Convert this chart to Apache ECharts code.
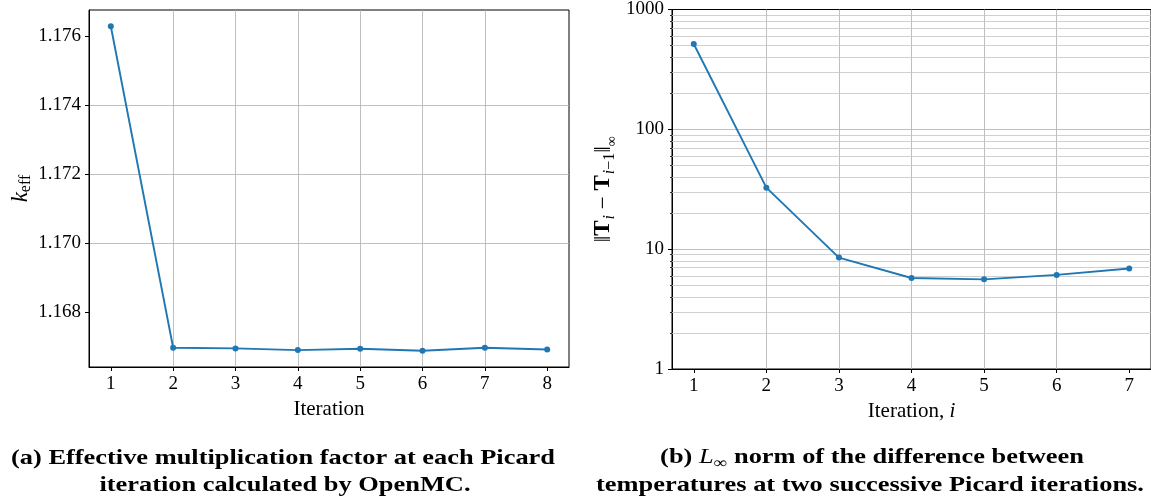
<!DOCTYPE html>
<html>
<head>
<meta charset="utf-8">
<script src="https://cdn.jsdelivr.net/npm/echarts@6/dist/echarts.min.js"></script>
<style>
html,body{margin:0;padding:0;background:#fff}
#main{width:1151px;height:499px}
</style>
</head>
<body>
<div id="main"></div>
<script>
// (a) k_eff per Picard iteration
var iterA = [1, 2, 3, 4, 5, 6, 7, 8]
var keff = [1.17629, 1.166978, 1.166958, 1.166909, 1.166949, 1.166891, 1.166978, 1.166929]
var keffTicks = [1.168, 1.170, 1.172, 1.174, 1.176]

// (b) L-inf norm of temperature change
var iterB = [1, 2, 3, 4, 5, 6, 7]
var normDiff = [515, 32.6, 8.5, 5.75, 5.6, 6.1, 6.9]
var logMinor = [2, 3, 4, 5, 6, 7, 8, 9, 20, 30, 40, 50, 60, 70, 80, 90, 200, 300, 400, 500, 600, 700, 800, 900]

var serif = '"Liberation Serif", "DejaVu Serif", serif'
var blue = '#1f77b4'
var gridCol = '#b0b0b0'

function pairs(xs, ys){
	var out = []
	for (var i = 0; i < xs.length; i++) out.push([xs[i], ys[i]])
	return out
}

function isTick(list, v){
	for (var i = 0; i < list.length; i++){
		if (Math.abs(list[i] - v) < 1e-9) return true
	}
	return false
}

function baseAxis(){
	return {
		axisLine: {show: true, onZero: false, lineStyle: {color: '#000', width: 1}},
		axisTick: {show: true, inside: false, length: 4, lineStyle: {color: '#000', width: 1}},
		axisLabel: {color: '#000', fontFamily: serif, fontSize: 19, margin: 8},
		splitLine: {show: true, showMinLine: false, showMaxLine: false, lineStyle: {color: gridCol, width: 0.8}},
		nameTextStyle: {color: '#000', fontFamily: serif, fontSize: 21}
	}
}

function merge(a, b){
	for (var k in b){
		if (b[k] && typeof b[k] == 'object' && !Array.isArray(b[k]) && a[k]){
			merge(a[k], b[k])
		} else {
			a[k] = b[k]
		}
	}
	return a
}

// caption line, stretched a bit to match the wider bold face of the original
function caption(x, y, style){
	style.textAlign = 'center'
	style.textVerticalAlign = 'middle'
	style.fill = '#000'
	return {type: 'text', x: x, y: y, scaleX: 1.2, style: style}
}

var chart = echarts.init(document.getElementById('main'))

var option = {
	animation: false,
	grid: [
		{left: 89, top: 10, width: 480, height: 357, show: true, borderColor: '#000', borderWidth: 1, containLabel: false},
		{left: 672, top: 7, width: 482, height: 362, show: true, borderColor: '#000', borderWidth: 1, containLabel: false}
	],
	xAxis: [
		merge(baseAxis(), {
			gridIndex: 0, type: 'value', min: 0.65, max: 8.35, splitNumber: 8,
			axisTick: {customValues: iterA},
			axisLabel: {customValues: iterA, formatter: function(v){ return isTick(iterA, v) ? String(v) : '' }},
			name: 'Iteration', nameLocation: 'middle', nameGap: 31
		}),
		merge(baseAxis(), {
			gridIndex: 1, type: 'value', min: 0.7, max: 7.3, splitNumber: 7,
			axisTick: {customValues: iterB},
			axisLabel: {customValues: iterB, formatter: function(v){ return isTick(iterB, v) ? String(v) : '' }},
			name: '{n|Iteration, }{i|i}', nameLocation: 'middle', nameGap: 30,
			nameTextStyle: {rich: {
				n: {fontFamily: serif, fontSize: 21, color: '#000'},
				i: {fontFamily: serif, fontSize: 21, fontStyle: 'italic', color: '#000'}
			}}
		})
	],
	yAxis: [
		merge(baseAxis(), {
			gridIndex: 0, type: 'value', min: 1.16642, max: 1.17676, splitNumber: 5,
			axisTick: {customValues: keffTicks},
			axisLabel: {customValues: keffTicks, formatter: function(v){ return isTick(keffTicks, v) ? v.toFixed(3) : '' }},
			name: '{k|k}{s|eff}', nameLocation: 'middle', nameRotate: 90, nameGap: 57,
			nameTextStyle: {rich: {
				k: {fontFamily: serif, fontSize: 23, fontStyle: 'italic', color: '#000', verticalAlign: 'top', lineHeight: 23},
				s: {fontFamily: serif, fontSize: 16, color: '#000', verticalAlign: 'top', lineHeight: 16, padding: [9, 0, 0, 0]}
			}}
		}),
		merge(baseAxis(), {
			gridIndex: 1, type: 'log', logBase: 10, min: 1, max: 1000,
			axisLabel: {formatter: function(v){ return String(v) }},
			name: '{n|\u2016}{b|T}{si|i}{n| \u2212 }{b|T}{si|i}{s|\u22121}{n|\u2016}{s2|\u221e}',
			nameLocation: 'middle', nameRotate: 90, nameGap: 56,
			nameTextStyle: {rich: {
				n: {fontFamily: serif, fontSize: 23, color: '#000', verticalAlign: 'top', lineHeight: 24},
				b: {fontFamily: serif, fontSize: 23, fontWeight: 'bold', color: '#000', verticalAlign: 'top', lineHeight: 24},
				si: {fontFamily: serif, fontSize: 16, fontStyle: 'italic', color: '#000', verticalAlign: 'top', lineHeight: 16, padding: [10, 0, 0, 1]},
				s: {fontFamily: serif, fontSize: 16, color: '#000', verticalAlign: 'top', lineHeight: 16, padding: [10, 0, 0, 0]},
				s2: {fontFamily: serif, fontSize: 14, color: '#000', verticalAlign: 'top', lineHeight: 14, padding: [13, 0, 0, 0]}
			}}
		}),
		// minor tick marks only, on the log axis of (b)
		{
			gridIndex: 1, type: 'log', logBase: 10, min: 1, max: 1000, position: 'left',
			axisLine: {show: false},
			axisTick: {show: true, inside: false, length: 2, customValues: logMinor, lineStyle: {color: '#000', width: 0.8}},
			axisLabel: {show: false},
			splitLine: {show: false}
		}
	],
	series: [
		{
			type: 'line', xAxisIndex: 0, yAxisIndex: 0,
			data: pairs(iterA, keff),
			symbol: 'circle', symbolSize: 6,
			itemStyle: {color: blue},
			lineStyle: {color: blue, width: 1.9},
			z: 3
		},
		{
			type: 'line', xAxisIndex: 1, yAxisIndex: 1,
			data: pairs(iterB, normDiff),
			symbol: 'circle', symbolSize: 6,
			itemStyle: {color: blue},
			lineStyle: {color: blue, width: 1.9},
			z: 3,
			markLine: {
				silent: true, z: 1, animation: false,
				symbol: ['none', 'none'],
				label: {show: false},
				lineStyle: {color: '#c4c4c4', width: 0.8, type: 'solid'},
				emphasis: {disabled: true},
				data: logMinor.map(function(v){ return {yAxis: v} })
			}
		}
	],
	graphic: [
		caption(283, 458, {text: '(a) Effective multiplication factor at each Picard', fontFamily: serif, fontSize: 22, fontWeight: 'bold'}),
		caption(285, 485, {text: 'iteration calculated by OpenMC.', fontFamily: serif, fontSize: 22, fontWeight: 'bold'}),
		caption(872, 458, {
			text: '{b|(b) }{L|L}{inf|\u221e}{b| norm of the difference between}',
			rich: {
				b: {fontFamily: serif, fontSize: 22, fontWeight: 'bold', fill: '#000', verticalAlign: 'top', lineHeight: 24},
				L: {fontFamily: serif, fontSize: 22, fontStyle: 'italic', fill: '#000', verticalAlign: 'top', lineHeight: 24},
				inf: {fontFamily: serif, fontSize: 16, fill: '#000', verticalAlign: 'top', lineHeight: 16, padding: [10, 0, 0, 0]}
			}
		}),
		caption(870, 485, {text: 'temperatures at two successive Picard iterations.', fontFamily: serif, fontSize: 22, fontWeight: 'bold'})
	]
}

chart.setOption(option)
</script>
</body>
</html>
